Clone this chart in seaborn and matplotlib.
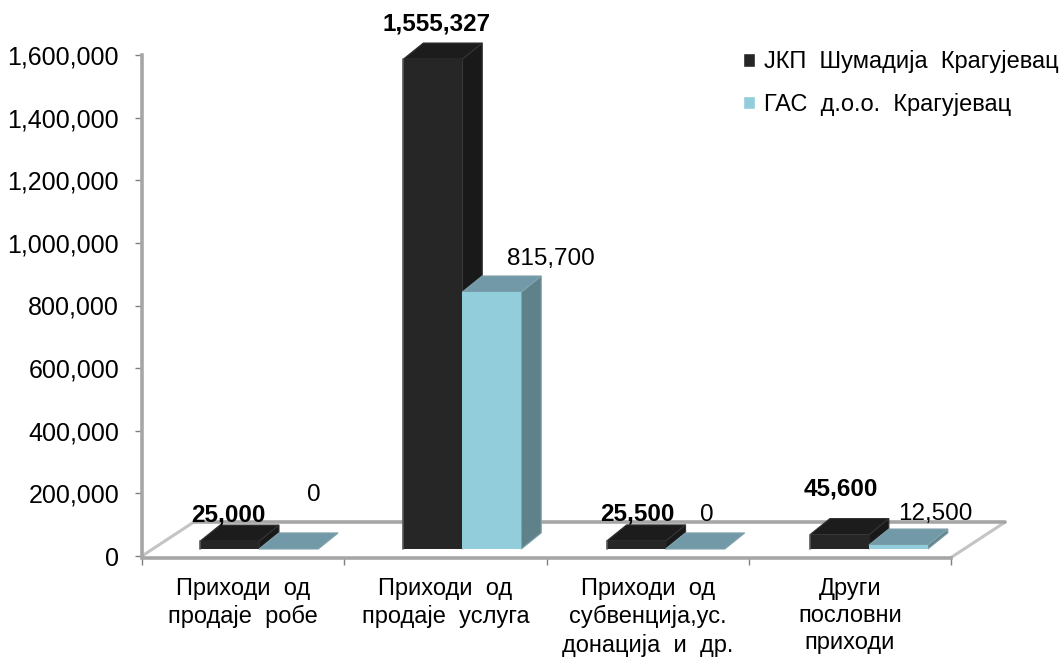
# -*- coding: utf-8 -*-
import matplotlib
matplotlib.use('Agg')
import matplotlib.pyplot as plt
import numpy as np
import pandas as pd
import seaborn as sns
from matplotlib.patches import Polygon

categories = ['Приходи  од\nпродаје  робе', 'Приходи  од\nпродаје  услуга',
              'Приходи  од\nсубвенција,ус.\nдонација  и  др.', 'Други\nпословни\nприходи']
jkp_values = [25000, 1555327, 25500, 45600]
gas_values = [0, 815700, 0, 12500]
series_names = ['JКП  Шумадија  Крагујевац', 'ГАС  д.о.о.  Крагујевац']
y_ticks = [0, 200000, 400000, 600000, 800000, 1000000, 1200000, 1400000, 1600000]

# label placement, pixels away from the top of each bar
jkp_label_offset = [(-1, 26), (4, 35), (1, 27), (1, 46)]
gas_label_offset = [(25, 54), (59, 33), (12, 34), (37, 31)]

W, H = 1061, 657
FONT = 18
GRAY = '#a6a6a6'


def px_axes(fig, left, right, top, bottom):
    return fig.add_axes([left / W, 1 - bottom / H, (right - left) / W, (bottom - top) / H])


def draw_depth(ax, bars, top_color, side_color, edge, z):
    # fake the 3d look of the bars, top and side faces come from the bar itself
    dx, dy = 0.098, 51000
    for b in bars:
        x0, x1 = b.get_x(), b.get_x() + b.get_width()
        y = b.get_height()
        top = [(x0, y), (x1, y), (x1 + dx, y + dy), (x0 + dx, y + dy)]
        side = [(x1, 0), (x1 + dx, dy), (x1 + dx, y + dy), (x1, y)]
        ax.add_patch(Polygon(side, fc=side_color, ec=edge, lw=0.8, zorder=z, clip_on=False))
        ax.add_patch(Polygon(top, fc=top_color, ec=edge, lw=0.8, zorder=z, clip_on=False))
        b.set_edgecolor('none')
        b.set_linewidth(0)
        b.set_zorder(z + 0.1)


sns.set_theme(style='white')
plt.rcParams['font.family'] = ['Liberation Sans', 'DejaVu Sans']

df = pd.DataFrame({
    'category': categories * 2,
    'value': jkp_values + gas_values,
    'company': [series_names[0]] * 4 + [series_names[1]] * 4,
})

fig = plt.figure(figsize=(W / 100, H / 100), dpi=100)

# axis frame with the floor of the 3d chart
frame = px_axes(fig, 142, 951, 55, 556)
frame.set_xlim(-0.5, 3.5)
frame.set_ylim(0, 1600000)
sns.despine(ax=frame, top=True, right=True)
for s in ['left', 'bottom']:
    frame.spines[s].set_color(GRAY)
    frame.spines[s].set_linewidth(2.6)
frame.spines['bottom'].set_position(('outward', 1.6))
frame.set_yticks(y_ticks)
frame.set_yticklabels([f'{v:,}' for v in y_ticks], fontsize=FONT, color='black')
frame.set_xticks(np.arange(4))
frame.set_xticklabels(categories, fontsize=FONT - 1, color='black', linespacing=1.3)
frame.set_xticks(np.arange(-0.5, 4), minor=True)
frame.tick_params(axis='y', length=5, width=1, color='#808080', pad=11.5, left=True)
frame.tick_params(axis='x', which='major', length=0, pad=14)
frame.tick_params(axis='x', which='minor', length=5, width=1, color='#808080', bottom=True)
frame.plot([-0.5, -0.245], [0, 108000], color='#c4c4c4', lw=2.2, clip_on=False)
frame.plot([3.5, 3.767], [-5000, 108000], color='#c4c4c4', lw=2.2, clip_on=False)
frame.plot([-0.245, 3.767], [108000, 108000], color=GRAY, lw=2.6, clip_on=False)

# bars sit on their own plane a little behind the frame
ax = px_axes(fig, 157.4, 970.6, 45, 549)
sns.barplot(data=df, x='category', y='value', hue='company', hue_order=series_names,
            palette=['#262626', '#92cddc'], saturation=1, width=0.58, gap=0, ax=ax)
ax.set_xlim(-0.5, 3.5)
ax.set_ylim(0, 1600000)
ax.patch.set_alpha(0)

draw_depth(ax, ax.containers[0], '#1c1c1c', '#191919', '#333333', 3)
draw_depth(ax, ax.containers[1], '#7299a7', '#5f8189', '#82a3ac', 4)
for b in ax.containers[0]:
    ax.plot([b.get_x()] * 2, [0, b.get_height()], color='#595959', lw=1.2, zorder=3.5, clip_on=False)

for bars, values, offsets, weight, size in [
        (ax.containers[0], jkp_values, jkp_label_offset, 'bold', FONT - 0.5),
        (ax.containers[1], gas_values, gas_label_offset, 'normal', FONT - 0.5)]:
    for b, v, off in zip(bars, values, offsets):
        ax.annotate(f'{v:,}', xy=(b.get_x() + b.get_width() / 2, v), xytext=off,
                    textcoords='offset pixels', ha='center', va='center', fontsize=size,
                    fontweight=weight, color='black', zorder=6, annotation_clip=False)

sns.move_legend(ax, loc='upper left', bbox_to_anchor=(743 / W, 1 - 50 / H),
                bbox_transform=fig.transFigure, frameon=False, title=None, fontsize=17,
                handlelength=0.52, handleheight=0.52, handletextpad=0.36, labelspacing=0.84,
                borderpad=0, borderaxespad=0, labelcolor='black')
ax.set_xticks([])
ax.set_yticks([])
ax.set_xlabel('')
ax.set_ylabel('')
frame.set_xlabel('')
for s in ax.spines.values():
    s.set_visible(False)

plt.savefig('out.png', dpi=100)
plt.close()
